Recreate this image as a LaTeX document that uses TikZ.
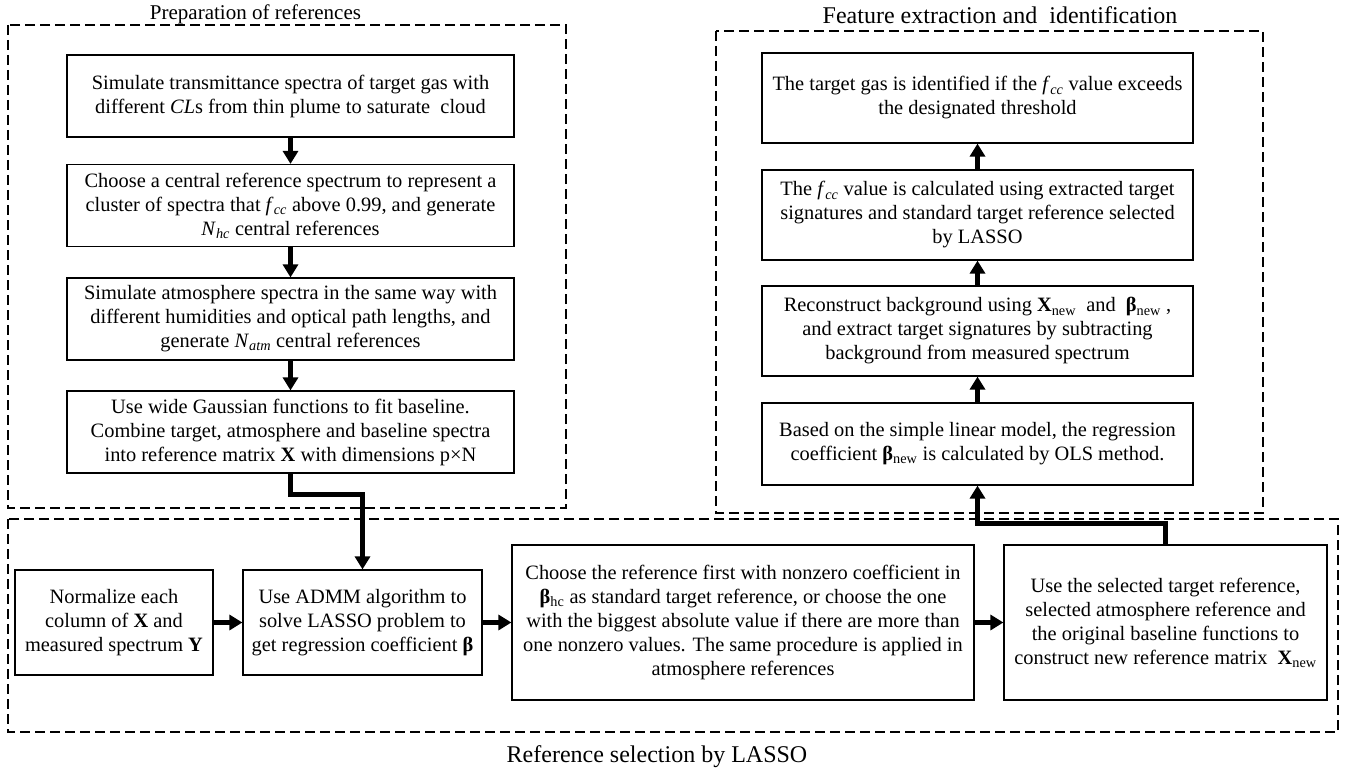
\documentclass[tikz,border=0pt]{standalone}
\usepackage{fontspec}
\setmainfont{Liberation Serif}
\usetikzlibrary{arrows.meta}
\newcommand{\fcc}{\textit{f}\textsubscript{\textit{cc}}}
\newcommand{\Xnew}{\textbf{X}\textsubscript{new}}
\newcommand{\Bnew}{\textbf{β}\textsubscript{new}}
\begin{document}
\begin{tikzpicture}[x=1pt,y=-1pt,line cap=butt,line join=miter,>={Triangle[width=15pt,length=13pt]},font=\fontsize{20.4}{24}\selectfont]
			\tikzset{box/.style={draw,line width=1.2pt,align=center,inner sep=0pt},
				panel/.style={line width=1.1pt,dash pattern=on 10pt off 5pt},
				flow/.style={->,line width=4.3pt},
				ttl/.style={font=\fontsize{24}{28}\selectfont}
			}
			\useasboundingbox (0,0) rectangle (1348,770);
			\draw[panel] (8,25) rectangle (566,508);
			\draw[panel] (716,31) rectangle (1263,513);
			\draw[panel] (8,519) rectangle (1338,732);
			\node[ttl,font=\fontsize{21}{24}\selectfont] (tprep) at (255.5,14) {Preparation of references};
			\node[ttl] (tfeat) at (1000,15) {Feature extraction and\ \ identification};
			\node[ttl] (tlasso) at (657,757) {Reference selection by LASSO};
			\node[box,minimum width=447,minimum height=82] (p1) at (290.5,96) {Simulate transmittance spectra of target gas with\\ different \textit{CL}s from thin plume to saturate\ \ cloud};
			\node[box,minimum width=447,minimum height=82] (p2) at (290.5,205.5) {Choose a central reference spectrum to represent a\\ cluster of spectra that\ \fcc{} above 0.99, and generate\\ \textit{N}\textsubscript{\textit{hc}} central references};
			\node[box,minimum width=447,minimum height=82] (p3) at (290.5,319) {Simulate atmosphere spectra in the same way with\\ different humidities and optical path lengths, and\\ generate \textit{N}\textsubscript{\textit{atm}} central references};
			\node[box,minimum width=447,minimum height=82] (p4) at (290.5,432) {Use wide Gaussian functions to fit baseline.\\ Combine target, atmosphere and baseline spectra\\ into reference matrix \textbf{X} with dimensions p×N};
			\node[box,minimum width=431,minimum height=90] (f1) at (977.5,98) {The target gas is identified if the\ \fcc{} value exceeds\\ the designated threshold};
			\node[box,minimum width=431,minimum height=90] (f2) at (977.5,215) {The \fcc{} value is calculated using extracted target\\ signatures and standard target reference selected\\ by LASSO};
			\node[box,minimum width=431,minimum height=90] (f3) at (977.5,331) {Reconstruct background using \Xnew\ \ and\ \ \Bnew\ ,\\ and extract target signatures by subtracting\\ background from measured spectrum};
			\node[box,minimum width=431,minimum height=82] (f4) at (977.5,444) {Based on the simple linear model, the regression\\ coefficient \Bnew{} is calculated by OLS method.};
			\node[box,minimum width=198,minimum height=105] (norm) at (114,622.5) {Normalize each\\ column of \textbf{X} and\\ measured spectrum \textbf{Y}};
			\node[box,minimum width=239,minimum height=105] (admm) at (362.5,622.5) {Use ADMM algorithm to\\ solve LASSO problem to\\ get regression coefficient \textbf{β}};
			\node[box,minimum width=462,minimum height=155] (choose) at (743,622.5) {Choose the reference first with nonzero coefficient in\\ \textbf{β}\textsubscript{hc} as standard target reference, or choose the one\\ with the biggest absolute value if there are more than\\ one nonzero values. The same procedure is applied in\\ atmosphere references};
			\node[box,minimum width=323,minimum height=155] (newref) at (1165.5,622.5) {Use the selected target reference,\\ selected atmosphere reference and\\ the original baseline functions to\\ construct new reference matrix\ \ \Xnew};
			\draw[flow] (p1) -- (p2);
			\draw[flow] (p2) -- (p3);
			\draw[flow] (p3) -- (p4);
			\draw[flow] (p4.south) -- ++(0,21) -| (admm.north);
			\draw[flow] (norm) -- (admm);
			\draw[flow] (admm) -- (choose);
			\draw[flow] (choose) -- (newref);
			\draw[flow] (newref.north) -- ++(0,-21) -| (f4.south);
			\draw[flow] (f4) -- (f3);
			\draw[flow] (f3) -- (f2);
			\draw[flow] (f2) -- (f1);
		\end{tikzpicture}
\end{document}
